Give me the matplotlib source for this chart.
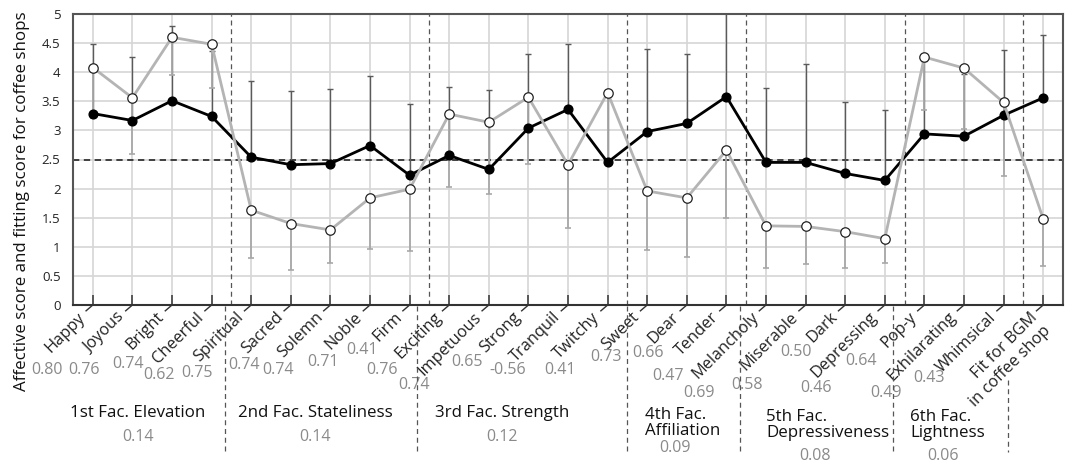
import numpy as np
import matplotlib.pyplot as plt

plt.rcParams["font.family"] = ["Open Sans", "DejaVu Sans"]

# ---------------------------------------------------------------------
# data
# ---------------------------------------------------------------------
words = ["Happy", "Joyous", "Bright", "Cheerful", "Spiritual", "Sacred",
         "Solemn", "Noble", "Firm", "Exciting", "Impetuous", "Strong",
         "Tranquil", "Twitchy", "Sweet", "Dear", "Tender", "Melancholy",
         "Miserable", "Dark", "Depressing", "Pop-y", "Exhilarating",
         "Whimsical", "Fit for BGM\nin coffee shop"]

# fitting score (black, filled) and its SD, drawn upwards
fit_mean = [3.29, 3.17, 3.51, 3.24, 2.54, 2.41, 2.43, 2.74, 2.23, 2.57,
            2.33, 3.04, 3.36, 2.45, 2.98, 3.12, 3.58, 2.45, 2.45, 2.26,
            2.14, 2.94, 2.90, 3.26, 3.56]
fit_sd = [1.19, 1.09, 1.29, 1.13, 1.31, 1.27, 1.28, 1.19, 1.22, 1.18,
          1.36, 1.27, 1.12, 1.15, 1.42, 1.19, 1.55, 1.27, 1.69, 1.22,
          1.21, 1.26, 1.07, 1.13, 1.08]

# affective score (grey, open) and its SD, drawn downwards
aff_mean = [4.08, 3.56, 4.60, 4.48, 1.63, 1.40, 1.29, 1.84, 1.99, 3.28,
            3.14, 3.57, 2.41, 3.65, 1.96, 1.84, 2.66, 1.36, 1.35, 1.26,
            1.14, 4.26, 4.07, 3.48, 1.48]
aff_sd = [0.86, 0.97, 0.65, 0.76, 0.83, 0.80, 0.56, 0.88, 1.06, 1.25,
          1.23, 1.14, 1.08, 1.15, 1.01, 1.01, 1.17, 0.72, 0.65, 0.63,
          0.42, 0.91, 1.05, 1.26, 0.81]

loadings = ["0.80", "0.76", "0.74", "0.62", "0.75", "0.74", "0.74", "0.71",
            "0.41", "0.76", "0.74", "0.65", "-0.56", "0.41", "0.73", "0.66",
            "0.47", "0.69", "0.58", "0.50", "0.46", "0.64", "0.49", "0.43"]

factor_names = ["1st Fac. Elevation", "2nd Fac. Stateliness",
                "3rd Fac. Strength", "4th Fac.\nAffiliation",
                "5th Fac.\nDepressiveness", "6th Fac.\nLightness"]
factor_var = ["0.14", "0.14", "0.12", "0.09", "0.08", "0.06"]
factor_sizes = [4, 5, 5, 3, 4, 3]

# ---------------------------------------------------------------------
# layout (pixel positions on a 1069 x 468 canvas, origin top-left)
# ---------------------------------------------------------------------
W, H = 1069, 468
AX_L, AX_R, AX_T, AX_B = 73, 1063, 14, 305

# offsets of each loading value from its tick foot (px, right/down)
loading_off = [(-46, 65), (-48, 65), (-44, 59), (-53, 70), (-54, 68),
               (-47, 60), (-52, 65), (-47, 57), (-48, 45), (-67, 65),
               (-75, 80), (-61, 57), (-60, 65), (-48, 65), (-41, 52),
               (-39, 48), (-58, 71), (-67, 88), (-59, 80), (-49, 47),
               (-69, 83), (-63, 56), (-78, 88), (-75, 73)]

# factor title anchors (x, y, ha) and variance label centres
factor_title_xy = [(138, 413, "center"), (315, 413, "center"),
                   (502, 413, "center"), (645, 423, "left"),
                   (766, 425, "left"), (910, 425, "left")]
factor_var_xy = [(138, 437), (315, 437), (502, 437), (675, 448),
                 (815, 456), (943, 456)]
# dashed separators under the axis (x, y_top)
sep_below = [(225, 306), (417, 306), (627, 306), (740, 306), (893, 306),
             (1008, 380)]


def fx(px):
    return px / W


def fy(py):
    return 1 - py / H


fig = plt.figure(figsize=(W / 100, H / 100), dpi=100)
fig.patch.set_facecolor("white")
ax = fig.add_axes([fx(AX_L), fy(AX_B), (AX_R - AX_L) / W, (AX_B - AX_T) / H])

n = len(words)
x = np.arange(n)

ax.set_xlim(-0.5, n - 0.5)
ax.set_ylim(0, 5)

# grid
ax.set_yticks(np.arange(0, 5.01, 0.5))
ax.set_yticklabels([f"{v:g}" for v in np.arange(0, 5.01, 0.5)])
for yv in np.arange(0.5, 5.0, 0.5):
    ax.axhline(yv, color="#d6d6d6", lw=1.2, zorder=0)
for xv in x:
    ax.axvline(xv, color="#d6d6d6", lw=1.2, zorder=0)

# factor boundaries inside the plot
bounds = np.cumsum(factor_sizes) - 0.5
for b in bounds:
    ax.axvline(b, color="#555555", lw=0.9, ls=(0, (4, 3)), zorder=1)

# neutral line
ax.axhline(2.5, color="#333333", lw=1.3, ls=(0, (3.5, 2.5)), zorder=1)

# error bars: fitting score upwards, affective score downwards
zeros = np.zeros(n)
ax.errorbar(x, fit_mean, yerr=[zeros, fit_sd], fmt="none",
            ecolor="#5a5a5a", elinewidth=1.0, capsize=2.5, capthick=1.0,
            zorder=2)
ax.errorbar(x, aff_mean, yerr=[aff_sd, zeros], fmt="none",
            ecolor="#a8a8a8", elinewidth=1.3, capsize=2.5, capthick=1.2,
            zorder=2.5)

ax.plot(x, fit_mean, color="black", lw=2.0, marker="o", ms=6.3,
        mfc="black", mec="black", zorder=3)
ax.plot(x, aff_mean, color="#b4b4b4", lw=2.0, zorder=4)
ax.plot(x, aff_mean, ls="none", marker="o", ms=6.8, mfc="white",
        mec="#222222", mew=0.9, zorder=5)

# spines / ticks
for side in ["top", "right", "left", "bottom"]:
    ax.spines[side].set_color("#555555")
    ax.spines[side].set_linewidth(1.5)
ax.spines["bottom"].set_color("#333333")
ax.tick_params(axis="y", length=0, pad=9, labelsize=9.5, labelcolor="#222222")
ax.set_xticks(x)
ax.set_xticklabels([])
ax.tick_params(axis="x", direction="in", length=7.5, width=1.1,
               color="#333333")

# little hooks leading from each tick to its rotated label
for xi in x:
    ax.plot([xi, xi - 0.17], [0, -0.1], color="#333333", lw=1.0,
            clip_on=False, zorder=6)

# rotated category labels
for xi, w in zip(x, words):
    off = (-10, -10) if "\n" not in w else (-2, -17)
    ax.annotate(w, xy=(xi, 0), xycoords="data", xytext=off,
                textcoords="offset pixels", rotation=45, ha="right",
                va="center", rotation_mode="anchor", fontsize=11.8,
                color="#222222", annotation_clip=False)

# factor loadings in grey
for xi, val, (dx, dy) in zip(x, loadings, loading_off):
    ax.annotate(val, xy=(xi, 0), xycoords="data", xytext=(dx, -dy),
                textcoords="offset pixels", ha="center", va="center",
                fontsize=11.5, color="#8a8a8a", annotation_clip=False)

# factor titles and explained variance
for name, (px, py, ha) in zip(factor_names, factor_title_xy):
    fig.text(fx(px), fy(py), name, ha=ha, va="center", fontsize=12.2,
             color="#111111", linespacing=1.0)
for val, (px, py) in zip(factor_var, factor_var_xy):
    fig.text(fx(px), fy(py), val, ha="center", va="center", fontsize=11.5,
             color="#8a8a8a")

for px, top in sep_below:
    fig.add_artist(plt.Line2D([fx(px), fx(px)], [fy(top), fy(452)],
                              color="#555555", lw=0.9, ls=(0, (4, 3))))

fig.text(fx(22), fy(201), "Affective score and fitting score for coffee shops",
         rotation=90, ha="center", va="center", fontsize=12.2,
         color="#111111")

fig.savefig("out.png", dpi=100, facecolor="white")
